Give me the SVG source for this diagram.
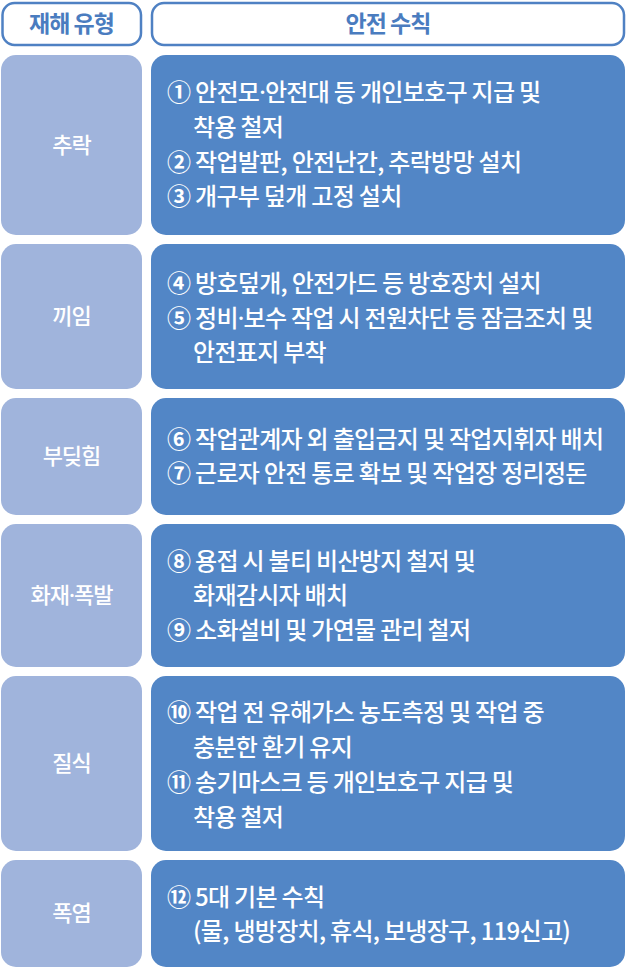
<svg xmlns="http://www.w3.org/2000/svg" width="627" height="969" viewBox="0 0 627 969">
<style>
.hd{fill:#ffffff;stroke:#4f81c3;stroke-width:2.5}
.ht{fill:#4a7cbf;font-family:"Noto Sans CJK KR","Noto Sans",sans-serif;font-size:23px;font-weight:700;text-anchor:middle;letter-spacing:-1px}
.lb{fill:#a0b4dc}
.rb{fill:#5286c6}
.lt{fill:#ffffff;font-family:"Noto Sans CJK KR","Noto Sans",sans-serif;font-size:22px;font-weight:500;text-anchor:middle;letter-spacing:-1px}
.rt{fill:#ffffff;font-family:"Noto Sans CJK KR","Noto Sans",sans-serif;font-size:24px;font-weight:500;letter-spacing:-0.7px}
.d{font-family:"Noto Sans","DejaVu Sans",sans-serif}
.n{font-weight:700}
</style>
<rect width="627" height="969" fill="#ffffff"/>
<g id="header-type">
<rect class="hd" x="2.5" y="3" width="138.5" height="42" rx="12"/>
<text class="ht" x="71.5" y="32">재해 유형</text>
</g>
<g id="header-rules">
<rect class="hd" x="152" y="3" width="472" height="42" rx="12"/>
<text class="ht" x="388" y="32">안전 수칙</text>
</g>
<g id="row1">
<rect class="lb" x="1" y="55" width="141" height="180" rx="15"/>
<text class="lt" x="71.5" y="153">추락</text>
<rect class="rb" x="151" y="55" width="474" height="180" rx="15"/>
<text class="rt" x="167" y="101"><tspan class="n">①</tspan> 안전모<tspan class="d">·</tspan>안전대 등 개인보호구 지급 및</text>
<text class="rt" x="193" y="136">착용 철저</text>
<text class="rt" x="167" y="170.5"><tspan class="n">②</tspan> 작업발판, 안전난간, 추락방망 설치</text>
<text class="rt" x="167" y="205"><tspan class="n">③</tspan> 개구부 덮개 고정 설치</text>
</g>
<g id="row2">
<rect class="lb" x="1" y="244" width="141" height="145" rx="15"/>
<text class="lt" x="71.5" y="324">끼임</text>
<rect class="rb" x="151" y="244" width="474" height="145" rx="15"/>
<text class="rt" x="167" y="292"><tspan class="n">④</tspan> 방호덮개, 안전가드 등 방호장치 설치</text>
<text class="rt" x="167" y="327"><tspan class="n">⑤</tspan> 정비<tspan class="d">·</tspan>보수 작업 시 전원차단 등 잠금조치 및</text>
<text class="rt" x="193" y="361">안전표지 부착</text>
</g>
<g id="row3">
<rect class="lb" x="1" y="398" width="141" height="117" rx="15"/>
<text class="lt" x="71.5" y="464">부딪힘</text>
<rect class="rb" x="151" y="398" width="474" height="117" rx="15"/>
<text class="rt" x="167" y="448"><tspan class="n">⑥</tspan> 작업관계자 외 출입금지 및 작업지휘자 배치</text>
<text class="rt" x="167" y="482"><tspan class="n">⑦</tspan> 근로자 안전 통로 확보 및 작업장 정리정돈</text>
</g>
<g id="row4">
<rect class="lb" x="1" y="524" width="141" height="143" rx="15"/>
<text class="lt" x="71.5" y="603">화재<tspan class="d">·</tspan>폭발</text>
<rect class="rb" x="151" y="524" width="474" height="143" rx="15"/>
<text class="rt" x="167" y="569.5"><tspan class="n">⑧</tspan> 용접 시 불티 비산방지 철저 및</text>
<text class="rt" x="193" y="604">화재감시자 배치</text>
<text class="rt" x="167" y="638.5"><tspan class="n">⑨</tspan> 소화설비 및 가연물 관리 철저</text>
</g>
<g id="row5">
<rect class="lb" x="1" y="676" width="141" height="175" rx="15"/>
<text class="lt" x="71.5" y="771">질식</text>
<rect class="rb" x="151" y="676" width="474" height="175" rx="15"/>
<text class="rt" x="167" y="721"><tspan class="n">⑩</tspan> 작업 전 유해가스 농도측정 및 작업 중</text>
<text class="rt" x="193" y="756">충분한 환기 유지</text>
<text class="rt" x="167" y="791"><tspan class="n">⑪</tspan> 송기마스크 등 개인보호구 지급 및</text>
<text class="rt" x="193" y="826">착용 철저</text>
</g>
<g id="row6">
<rect class="lb" x="1" y="860" width="141" height="107" rx="15"/>
<text class="lt" x="71.5" y="921">폭염</text>
<rect class="rb" x="151" y="860" width="474" height="107" rx="15"/>
<text class="rt" x="167" y="906"><tspan class="n">⑫</tspan> 5대 기본 수칙</text>
<text class="rt" x="193" y="940">(물, 냉방장치, 휴식, 보냉장구, 119신고)</text>
</g>
<g id="connectors"></g>
</svg>
